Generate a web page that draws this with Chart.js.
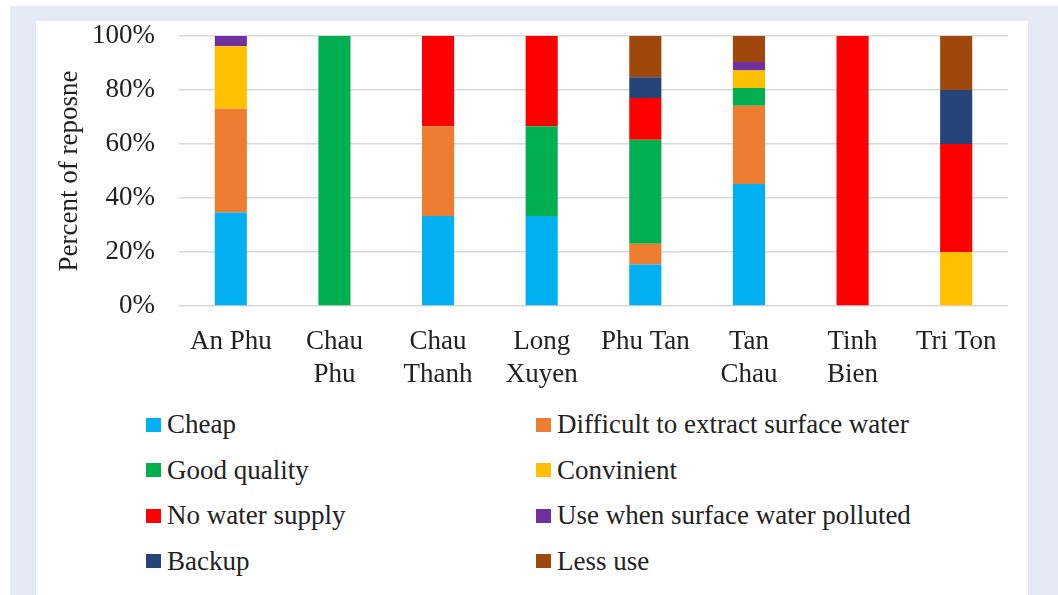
<!DOCTYPE html>
<html>
<head>
<meta charset="utf-8">
<script src="https://cdn.jsdelivr.net/npm/chart.js@4.4.1/dist/chart.umd.min.js"></script>
<style>
  html, body { margin: 0; padding: 0; background: #ffffff; }
  body { width: 1058px; height: 595px; position: relative; overflow: hidden; font-family: "Liberation Serif", "Times New Roman", serif; }
  #frame { position: absolute; left: 10px; top: 6px; right: 0; bottom: 0; background: #e6eaf6; }
  #panel { position: absolute; left: 36px; top: 21px; width: 992px; bottom: 0; background: #ffffff; }
  #chartBox { position: absolute; left: 0; top: 0; width: 992px; height: 370px; }
  #legend { position: absolute; left: 110px; top: 381px; width: 880px; display: grid; grid-template-columns: 390px 490px; }
  .item { display: flex; align-items: center; height: 45.5px; font-size: 27px; color: #222; white-space: nowrap; }
  .swatch { width: 15px; height: 14px; margin-right: 6px; flex: none; }
</style>
</head>
<body>
<div id="frame"></div>
<div id="panel">
  <div id="chartBox"><canvas id="c"></canvas></div>
  <div id="legend"></div>
</div>
<script>
// Districts surveyed
const districts = [
  ["An Phu"], ["Chau", "Phu"], ["Chau", "Thanh"], ["Long", "Xuyen"],
  ["Phu Tan"], ["Tan", "Chau"], ["Tinh", "Bien"], ["Tri Ton"]
];

// Share of responses per reason (%)
const cheap       = [34.6,   0, 33.3, 33.3, 15.4, 45.2,   0,  0];
const difficult   = [38.5,   0, 33.3,    0,  7.7, 29.0,   0,  0];
const goodQuality = [   0, 100,    0, 33.3, 38.5,  6.5,   0,  0];
const convinient  = [23.1,   0,    0,    0,    0,  6.5,   0, 20];
const noSupply    = [   0,   0, 33.4, 33.4, 15.4,    0, 100, 40];
const polluted    = [ 3.8,   0,    0,    0,    0,  3.2,   0,  0];
const backup      = [   0,   0,    0,    0,  7.7,    0,   0, 20];
const lessUse     = [   0,   0,    0,    0, 15.3,  9.6,   0, 20];

const yTicks = [0, 20, 40, 60, 80, 100];

const series = [
  { label: "Cheap", data: cheap, color: "#00b0f0" },
  { label: "Difficult to extract surface water", data: difficult, color: "#ed7d31" },
  { label: "Good quality", data: goodQuality, color: "#00b050" },
  { label: "Convinient", data: convinient, color: "#ffc000" },
  { label: "No water supply", data: noSupply, color: "#ff0000" },
  { label: "Use when surface water polluted", data: polluted, color: "#7030a0" },
  { label: "Backup", data: backup, color: "#264478" },
  { label: "Less use", data: lessUse, color: "#9e480e" }
];

const font = { family: "'Liberation Serif', 'Times New Roman', serif", size: 27 };

const chart = new Chart(document.getElementById("c"), {
  type: "bar",
  data: {
    labels: districts,
    datasets: series.map(s => ({
      label: s.label,
      data: s.data,
      backgroundColor: s.color,
      borderWidth: 0,
      barPercentage: 0.31,
      categoryPercentage: 1.0
    }))
  },
  options: {
    responsive: true,
    maintainAspectRatio: false,
    animation: false,
    layout: { padding: { top: 15, right: 20, left: 0, bottom: 0 } },
    plugins: { legend: { display: false }, tooltip: { enabled: false } },
    scales: {
      x: {
        stacked: true,
        grid: { display: false, drawTicks: false },
        border: { display: false },
        ticks: { font: font, color: "#222", padding: 20, maxRotation: 0, autoSkip: false },
        afterFit: s => { s.height = 85; s.paddingLeft = 0; s.paddingRight = 0; }
      },
      y: {
        stacked: true,
        min: 0,
        max: 100,
        afterBuildTicks: s => { s.ticks = yTicks.map(v => ({ value: v })); },
        grid: { color: "#d9d9d9", lineWidth: 1.5, drawTicks: false },
        border: { display: false },
        ticks: { font: font, color: "#222", padding: 24, callback: v => v + "%" },
        title: { display: true, text: "Percent of reposne", font: font, color: "#222", padding: { top: 18, bottom: 0 } },
        afterFit: s => { s.width = 143; s.paddingTop = 0; s.paddingBottom = 0; }
      }
    }
  }
});

// Two-column legend built from the chart's datasets
const legend = document.getElementById("legend");
chart.data.datasets.forEach(ds => {
  const item = document.createElement("div");
  item.className = "item";
  const sw = document.createElement("span");
  sw.className = "swatch";
  sw.style.background = ds.backgroundColor;
  const txt = document.createElement("span");
  txt.textContent = ds.label;
  item.appendChild(sw);
  item.appendChild(txt);
  legend.appendChild(item);
});
</script>
</body>
</html>
